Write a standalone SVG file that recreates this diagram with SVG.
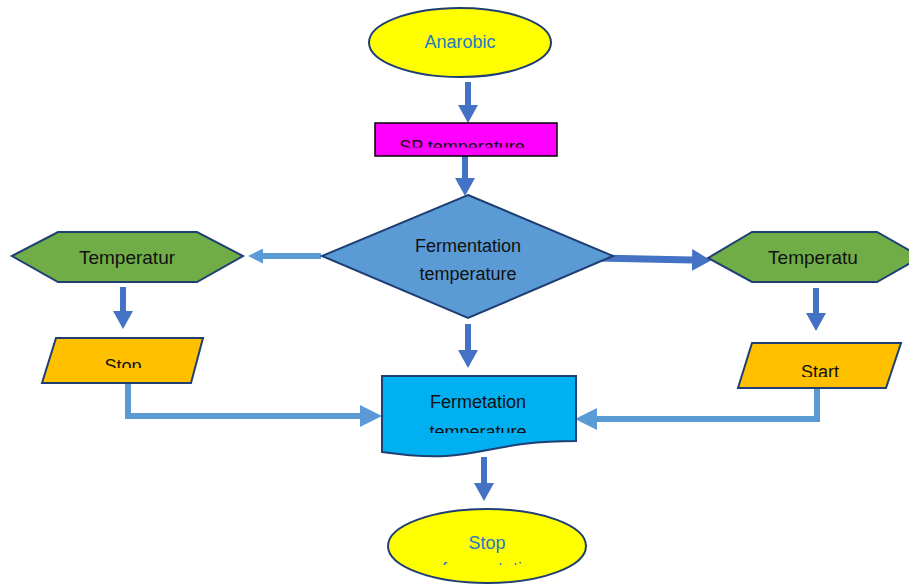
<svg xmlns="http://www.w3.org/2000/svg" width="909" height="584" viewBox="0 0 909 584">
  <style>
    .lbl { font-family: "Liberation Sans", Arial, sans-serif; font-size: 18px; text-anchor: middle; fill: #111; }
    .blue { fill: #2478C4; }
    .sh { stroke: #1F3F73; stroke-width: 2; }
    .dk { stroke: #4472C4; stroke-width: 6; fill: none; }
    .lt { stroke: #5B9BD5; stroke-width: 6; fill: none; }
  </style>
  <defs>
    <marker id="hd" viewBox="0 0 18 20" refX="0" refY="10" markerWidth="18" markerHeight="20" markerUnits="userSpaceOnUse" orient="auto">
      <path d="M0,0 L18,10 L0,20 Z" fill="#4472C4"/>
    </marker>
    <marker id="hdb" viewBox="0 0 19 22" refX="0" refY="11" markerWidth="19" markerHeight="22" markerUnits="userSpaceOnUse" orient="auto">
      <path d="M0,0 L19,11 L0,22 Z" fill="#4472C4"/>
    </marker>
    <marker id="hl" viewBox="0 0 22 22" refX="0" refY="11" markerWidth="22" markerHeight="22" markerUnits="userSpaceOnUse" orient="auto">
      <path d="M0,0 L22,11 L0,22 Z" fill="#5B9BD5"/>
    </marker>
    <marker id="hs" viewBox="0 0 15 15" refX="0" refY="7.5" markerWidth="15" markerHeight="15" markerUnits="userSpaceOnUse" orient="auto">
      <path d="M0,0 L15,7.5 L0,15 Z" fill="#5B9BD5"/>
    </marker>
    <clipPath id="cSP"><rect x="370" y="120" width="190" height="27.5"/></clipPath>
    <clipPath id="cStop"><rect x="40" y="336" width="170" height="32"/></clipPath>
    <clipPath id="cStart"><rect x="735" y="341" width="170" height="36"/></clipPath>
    <clipPath id="cDoc"><rect x="380" y="374" width="200" height="59"/></clipPath>
    <clipPath id="cEnd"><rect x="385" y="505" width="205" height="60"/></clipPath>
  </defs>

  <g id="connectors">
    <line class="dk" x1="468" y1="82" x2="468" y2="105" marker-end="url(#hd)"/>
    <line class="dk" x1="465" y1="156" x2="465" y2="178" marker-end="url(#hd)"/>
    <line class="dk" x1="468" y1="324" x2="468" y2="350" marker-end="url(#hd)"/>
    <line class="dk" x1="484" y1="457" x2="484" y2="483" marker-end="url(#hd)"/>
    <line class="dk" x1="123" y1="287" x2="123" y2="311" marker-end="url(#hd)"/>
    <line class="dk" x1="816" y1="288" x2="816" y2="313" marker-end="url(#hd)"/>
    <line stroke="#4472C4" stroke-width="7" x1="597" y1="258" x2="692" y2="260" marker-end="url(#hdb)"/>
    <line class="lt" x1="321" y1="256" x2="263" y2="256" marker-end="url(#hs)"/>
    <polyline class="lt" points="128,383 128,416 360,416" marker-end="url(#hl)"/>
    <polyline class="lt" points="817,388 817,419 597,419" marker-end="url(#hl)"/>
  </g>

  <g id="anarobic">
    <ellipse class="sh" cx="460" cy="42.5" rx="91" ry="34.5" fill="#FFFF00"/>
    <text class="lbl blue" x="460" y="48">Anarobic</text>
  </g>

  <g id="sp-temperature">
    <rect x="375" y="123" width="182" height="33" fill="#FF00FF" stroke="#000" stroke-width="1.5"/>
    <text class="lbl" x="462" y="153" clip-path="url(#cSP)">SP temperature</text>
  </g>

  <g id="decision">
    <polygon class="sh" points="468,195 613,256 468,318 322,256" fill="#5B9BD5"/>
    <text class="lbl" x="468" y="252">Fermentation</text>
    <text class="lbl" x="468" y="280">temperature</text>
  </g>

  <g id="hex-left">
    <polygon class="sh" points="12,256 58,232 197,232 243,256 197,282 58,282" fill="#70AD47"/>
    <text class="lbl" x="127" y="264" style="font-size:19px">Temperatur</text>
  </g>

  <g id="hex-right">
    <polygon class="sh" points="708,258 752,232 877,232 921,257 877,282 752,282" fill="#70AD47"/>
    <text class="lbl" x="813" y="264" style="font-size:19px">Temperatu</text>
  </g>

  <g id="stop-io">
    <polygon class="sh" points="56,338 203,338 191,383 42,383" fill="#FFC000"/>
    <text class="lbl" x="123" y="372" clip-path="url(#cStop)">Stop</text>
  </g>

  <g id="start-io">
    <polygon class="sh" points="752,343 901,343 886,388 738,388" fill="#FFC000"/>
    <text class="lbl" x="820" y="378" clip-path="url(#cStart)">Start</text>
  </g>

  <g id="document">
    <path class="sh" d="M382,376 L576,376 L576,441 C479,441 479,466 382,452 Z" fill="#00B0F0"/>
    <text class="lbl" x="478" y="408">Fermetation</text>
    <text class="lbl" x="478" y="438" clip-path="url(#cDoc)">temperature</text>
  </g>

  <g id="stop-fermentation">
    <ellipse class="sh" cx="487" cy="546" rx="99" ry="37" fill="#FFFF00"/>
    <text class="lbl blue" x="487" y="549">Stop</text>
    <text class="lbl blue" x="487" y="575" clip-path="url(#cEnd)">fermentatio</text>
  </g>
</svg>
